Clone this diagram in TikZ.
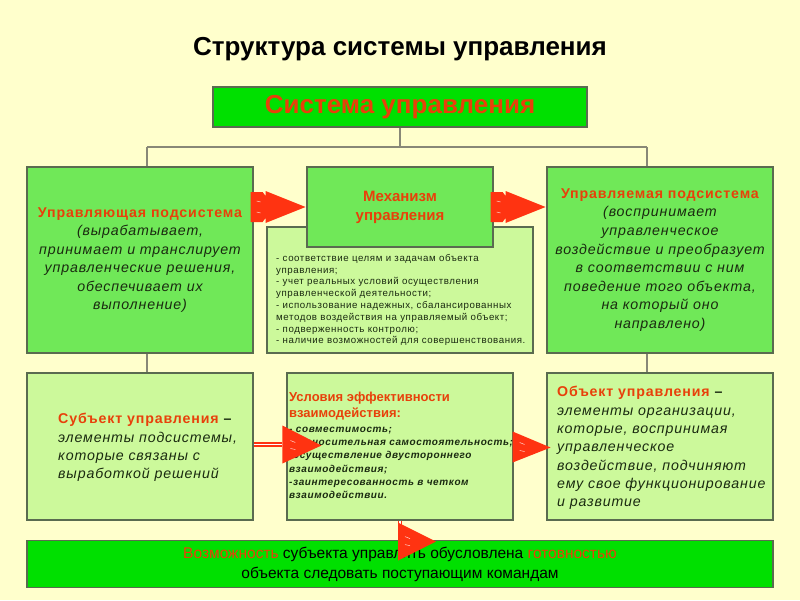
\documentclass[tikz,border=0pt]{standalone}
\usepackage{fontspec}
\setmainfont{Liberation Sans}[LetterSpace=6]
\newfontfamily\plainfont{Liberation Sans}
\usetikzlibrary{calc}
\definecolor{bgc}{HTML}{FFFFCC}
\definecolor{brightg}{HTML}{00E000}
\definecolor{midg}{HTML}{70E858}
\definecolor{lightg}{HTML}{CCF99B}
\definecolor{edgec}{HTML}{5A6B50}
\definecolor{redt}{HTML}{E8400A}
\definecolor{arrowr}{HTML}{FF3311}
\definecolor{darkt}{HTML}{1A2A10}
\definecolor{linec}{HTML}{888877}
\tikzset{
  boxbase/.style={draw=edgec, line width=1.2pt, inner sep=0pt, align=center, text=darkt},
  topbox/.style={boxbase, fill=brightg},
  midbox/.style={boxbase, fill=midg},
  lightbox/.style={boxbase, fill=lightg},
  conn/.style={draw=linec, line width=1.2pt},
  fatarrow/.pic={
    \fill[arrowr] (0,-15) -- (12,-15) -- (15,-11) -- (15,-16) -- (55,0) -- (15,16) -- (15,11) -- (12,15) -- (0,15) -- cycle;
    \draw[white!80!arrowr, line width=0.5pt] (6,-6) -- (10,-5) (6,5) -- (10,6);
  },
  dblline/.style={draw=arrowr, double=white, double distance=1.6pt, line width=1.3pt}
}
\newcommand{\rt}[1]{{\bfseries\upshape\color{redt}#1}}
\newcommand{\rtp}[1]{{\plainfont\bfseries\upshape\color{redt}#1}}
\begin{document}
\begin{tikzpicture}[x=1pt,y=-1pt]
\fill[bgc] (0,0) rectangle (800,600);
\useasboundingbox (0,0) rectangle (800,600);

% title
\node[font=\plainfont\bfseries\fontsize{26}{30}\selectfont] (title) at (400,49) {Структура системы управления};

% top box
\node[topbox, minimum width=374, minimum height=40, font=\plainfont\bfseries\fontsize{26}{30}\selectfont, text=redt] (sys) at (400,107) {\raisebox{-2pt}{Система управления}};

% row 1
\node[midbox, minimum width=226, minimum height=186, font=\fontsize{14.2}{18.4}\selectfont\itshape] (ctrl) at (140,260)
 {\rt{Управляющая подсистема}\\(вырабатывает,\\принимает и транслирует\\управленческие решения,\\обеспечивает их\\выполнение)};
\node[lightbox, minimum width=266, minimum height=126] (cond) at (400,290) {};
\node[midbox, minimum width=186, minimum height=80, font=\fontsize{15}{19}\selectfont] (mech) at (400,207)
 {\rtp{Механизм}\\\rtp{управления}};
\node[midbox, minimum width=226, minimum height=186, font=\fontsize{14.2}{18.6}\selectfont\itshape] (ctrld) at (660,260)
 {\rt{Управляемая подсистема}\\(воспринимает\\управленческое\\воздействие и преобразует\\в соответствии с ним\\поведение того объекта,\\на который оно\\направлено)};
\node[anchor=north west, align=left, inner sep=0pt, text=darkt, font=\fontsize{9.7}{11.8}\selectfont] (condtext) at (276,254)
 {- соответствие целям и задачам объекта\\управления;\\- учет реальных условий осуществления\\управленческой деятельности;\\- использование надежных, сбалансированных\\методов воздействия на управляемый объект;\\- подверженность контролю;\\- наличие возможностей для совершенствования.};

% row 2
\node[lightbox, minimum width=226, minimum height=147] (subj) at (140,446.5) {};
\node[lightbox, minimum width=226, minimum height=147] (effc) at (400,446.5) {};
\node[lightbox, minimum width=226, minimum height=147] (obj) at (660,446.5) {};

\node[anchor=west, align=left, inner sep=0pt, text=darkt, font=\fontsize{14.2}{18.3}\selectfont\itshape] (subjtext) at (58,447.5)
 {\rt{Субъект управления} {\upshape\bfseries –}\\элементы подсистемы,\\которые связаны с\\выработкой решений};
\node[anchor=west, align=left, inner sep=0pt, text=darkt, font=\fontsize{14.2}{18.3}\selectfont\itshape] (objtext) at (557,448)
 {\rt{Объект управления} {\upshape\bfseries –}\\элементы организации,\\которые, воспринимая\\управленческое\\воздействие, подчиняют\\ему свое функционирование\\и развитие};
\node[anchor=north west, align=left, inner sep=0pt, font=\plainfont\bfseries\fontsize{13}{16}\selectfont, text=redt] (efftitle) at (289,391.5)
 {Условия эффективности\\взаимодействия:};
\node[anchor=north west, align=left, inner sep=0pt, text=darkt, font=\bfseries\itshape\fontsize{10}{13.2}\selectfont] (efftext) at (289,427)
 {- совместимость;\\- относительная самостоятельность;\\-осуществление двустороннего\\взаимодействия;\\-заинтересованность в четком\\взаимодействии.};

% bottom box
\node[topbox, minimum width=746, minimum height=47, text=black, font=\plainfont\fontsize{15.5}{20}\selectfont] (poss) at (400,564)
 {{\color{redt}Возможность} субъекта управлять обусловлена {\color{redt}готовностью}\\объекта следовать поступающим командам};

% tree connectors
\coordinate (jC) at (400,147);
\coordinate (jL) at (147,147);
\coordinate (jR) at (647,147);
\draw[conn] (sys.south) -- (jC);
\draw[conn] (jL) -- (jR);
\draw[conn] (jL) -- (jL |- ctrl.north);
\draw[conn] (jR) -- (jR |- ctrld.north);
\draw[conn] (jL |- ctrl.south) -- (jL |- subj.north);
\draw[conn] (jR |- ctrld.south) -- (jR |- obj.north);

% red arrows
\pic at ($(ctrl.east |- mech.west)+(-3,0)$) {fatarrow};
\pic at ($(mech.east)+(-3,0)$) {fatarrow};

\coordinate (a3) at ($(effc.west)+(-4,-2)$);
\draw[dblline] ($(subj.east)+(0,-2)$) -- (a3);
\fill[arrowr] ($(a3)+(0,-19)$) -- ($(a3)+(39,1)$) -- ($(a3)+(0,19)$) -- cycle;
\draw[white!80!arrowr, line width=0.5pt] ($(a3)+(8,-4)$) -- ($(a3)+(13,-2)$) ($(a3)+(8,4)$) -- ($(a3)+(13,5)$);

\coordinate (a4) at ($(effc.east)+(-1,0)$);
\fill[arrowr] ($(a4)+(0,-15)$) -- ($(a4)+(38,1)$) -- ($(a4)+(0,16)$) -- cycle;
\draw[white!80!arrowr, line width=0.5pt] ($(a4)+(7,-4)$) -- ($(a4)+(12,-2)$) ($(a4)+(7,4)$) -- ($(a4)+(12,5)$);

\coordinate (a5) at ($(effc.south)+(-2,0)$);
\draw[dblline] (effc.south) -- ($(effc.south)+(0,10)$);
\fill[arrowr] ($(a5)+(0,2)$) -- ($(a5)+(38,21)$) -- ($(a5)+(0,40)$) -- cycle;
\draw[white!80!arrowr, line width=0.5pt] ($(a5)+(7,16)$) -- ($(a5)+(12,18)$) ($(a5)+(7,24)$) -- ($(a5)+(12,25)$);
\end{tikzpicture}
\end{document}
